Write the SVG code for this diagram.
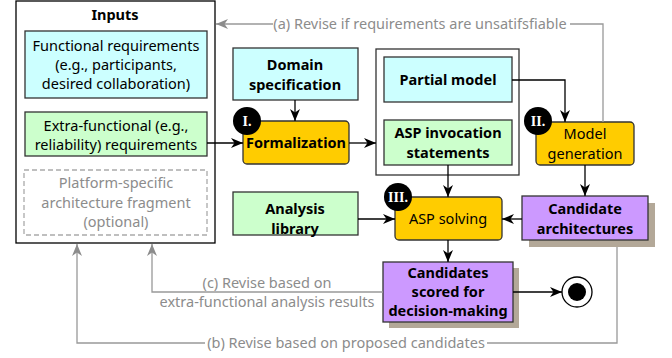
<svg xmlns="http://www.w3.org/2000/svg" width="672" height="358" viewBox="0 0 672 358">
<style>
text{font-family:"Noto Sans","Open Sans","DejaVu Sans",sans-serif;font-size:14.5px;text-anchor:middle;fill:#000}
.b{font-weight:bold}
.g{fill:#8c8c8c}
.box{stroke:#333;stroke-width:1.3}
.cy{fill:#ccffff}
.gr{fill:#ccffcc}
.or{fill:#ffcc00}
.pu{fill:#cc99ff}
.sh{fill:#b3a898}
.c{fill:none;stroke:#000;stroke-width:1.3}
.cg{fill:none;stroke:#999;stroke-width:1.3}
.bd circle{fill:#000}
.bd text{font-family:"Liberation Serif","DejaVu Serif",serif;font-weight:bold;fill:#fff;font-size:14px}
</style>
<defs>
<marker id="ab" viewBox="0 0 12 10" refX="12" refY="5" markerWidth="12" markerHeight="10" markerUnits="userSpaceOnUse" orient="auto"><path d="M0,0 L12,5 L0,10 L3.5,5 z" fill="#000"/></marker>
<marker id="ag" viewBox="0 0 12 10" refX="12" refY="5" markerWidth="12" markerHeight="10" markerUnits="userSpaceOnUse" orient="auto"><path d="M0,0 L12,5 L0,10 L3.5,5 z" fill="#8c8c8c"/></marker>
</defs>
<rect width="672" height="358" fill="#fff"/>

<g id="inputs">
<rect x="16" y="1" width="199" height="242" fill="#fff" stroke="#000" stroke-width="1.3"/>
<text class="b" x="115" y="20">Inputs</text>
</g>
<g id="functional">
<rect class="box cy" x="25" y="31" width="182" height="67"/>
<text x="116" y="51">Functional requirements</text>
<text x="116" y="70">(e.g., participants,</text>
<text x="116" y="89">desired collaboration)</text>
</g>
<g id="extrafunctional">
<rect class="box gr" x="25" y="112" width="182" height="44"/>
<text x="116" y="131">Extra-functional (e.g.,</text>
<text x="116" y="150">reliability) requirements</text>
</g>
<g id="platform">
<rect x="24" y="170" width="183" height="65" fill="none" stroke="#aaa" stroke-width="1.3" stroke-dasharray="5,3"/>
<text class="g" x="116" y="188">Platform-specific</text>
<text class="g" x="116" y="208">architecture fragment</text>
<text class="g" x="116" y="227">(optional)</text>
</g>

<g id="domain">
<rect class="box cy" x="233" y="48" width="125" height="52"/>
<text class="b" x="295" y="70">Domain</text>
<text class="b" x="295" y="90">specification</text>
</g>
<g id="formalization">
<rect class="box or" x="243" y="121" width="106" height="43" rx="4"/>
<text class="b" x="296" y="148">Formalization</text>
<g class="bd"><circle cx="247" cy="121" r="14"/><text x="247" y="126">I.</text></g>
</g>

<g id="model-group">
<rect x="376" y="49" width="143" height="126" fill="#fff" stroke="#333" stroke-width="1.3"/>
</g>
<g id="partial">
<rect class="box cy" x="384" y="57" width="128" height="45"/>
<text class="b" x="448" y="85">Partial model</text>
</g>
<g id="aspinvocation">
<rect class="box gr" x="384" y="120" width="128" height="45"/>
<text class="b" x="448" y="138">ASP invocation</text>
<text class="b" x="448" y="158">statements</text>
</g>

<g id="modelgen">
<rect class="box or" x="536" y="122" width="98" height="43" rx="4"/>
<text x="585" y="139">Model</text>
<text x="585" y="159">generation</text>
<g class="bd"><circle cx="538" cy="121" r="14"/><text x="538" y="126">II.</text></g>
</g>

<g id="candidates">
<rect class="sh" x="529" y="203" width="126" height="44"/>
<rect class="box pu" x="522" y="196" width="126" height="44"/>
<text class="b" x="585" y="214">Candidate</text>
<text class="b" x="585" y="234">architectures</text>
</g>

<g id="analysis">
<rect class="box gr" x="233" y="192" width="125" height="43"/>
<text class="b" x="295" y="214">Analysis</text>
<text class="b" x="295" y="234">library</text>
</g>

<g id="aspsolving">
<rect class="box or" x="395" y="197" width="107" height="43" rx="4"/>
<text x="448" y="224">ASP solving</text>
<g class="bd"><circle cx="398" cy="197" r="14"/><text x="398" y="202">III.</text></g>
</g>

<g id="scored">
<rect class="sh" x="389" y="268" width="130" height="60"/>
<rect class="box pu" x="383" y="262" width="130" height="60"/>
<text class="b" x="448" y="278">Candidates</text>
<text class="b" x="448" y="297">scored for</text>
<text class="b" x="448" y="316">decision-making</text>
</g>

<g id="final">
<circle cx="577" cy="292" r="15" fill="#fff" stroke="#000" stroke-width="1.3"/>
<circle cx="577" cy="292" r="9" fill="#000"/>
</g>

<g id="connectors">
<path class="c" d="M295,100 V121" marker-end="url(#ab)"/>
<path class="c" d="M207,143 H243" marker-end="url(#ab)"/>
<path class="c" d="M349,143 H376" marker-end="url(#ab)"/>
<path class="c" d="M512,80 H565 V122" marker-end="url(#ab)"/>
<path class="c" d="M585,165 V196" marker-end="url(#ab)"/>
<path class="c" d="M448,165 V197" marker-end="url(#ab)"/>
<path class="c" d="M358,219 H395" marker-end="url(#ab)"/>
<path class="c" d="M522,219 H502" marker-end="url(#ab)"/>
<path class="c" d="M448,240 V262" marker-end="url(#ab)"/>
<path class="c" d="M513,292 H562" marker-end="url(#ab)"/>
<path class="cg" d="M603,122 V24 H570"/>
<path class="cg" d="M273,24 H216" marker-end="url(#ag)"/>
<text class="g" x="420" y="29">(a) Revise if requirements are unsatifsfiable</text>
<path class="cg" d="M383,292 H152 V244" marker-end="url(#ag)"/>
<text class="g" x="267" y="288">(c) Revise based on</text>
<text class="g" x="267" y="307">extra-functional analysis results</text>
<path class="cg" d="M617,247 V343 H487"/>
<path class="cg" d="M205,343 H77 V244" marker-end="url(#ag)"/>
<text class="g" x="346" y="348">(b) Revise based on proposed candidates</text>
</g>
</svg>
